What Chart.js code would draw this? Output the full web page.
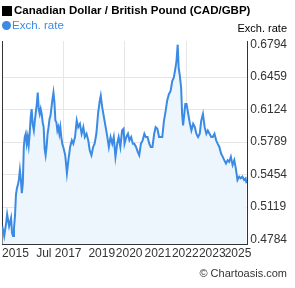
<!DOCTYPE html>
<html><head><meta charset="utf-8">
<script src="https://cdn.jsdelivr.net/npm/chart.js@4/dist/chart.umd.min.js"></script>
<style>html,body{margin:0;padding:0;background:#fff}#wrap{width:295px;height:288px;position:relative}</style>
</head><body><div id="wrap"><canvas id="c" width="295" height="288"></canvas></div>
<script>
const chartTitle = 'Canadian Dollar / British Pound (CAD/GBP)';
const seriesName = 'Exch. rate';
const axisTitle = 'Exch. rate';
const credit = '\u00A9 Chartoasis.com';
const years = [2015.60,2015.68,2015.76,2015.80,2015.88,2015.96,2016.00,2016.04,2016.08,2016.12,2016.16,2016.20,2016.24,2016.28,2016.32,2016.36,2016.40,2016.44,2016.48,2016.52,2016.56,2016.60,2016.64,2016.68,2016.72,2016.76,2016.80,2016.84,2016.89,2016.93,2016.97,2017.01,2017.05,2017.09,2017.13,2017.17,2017.21,2017.25,2017.29,2017.33,2017.37,2017.41,2017.45,2017.49,2017.53,2017.57,2017.61,2017.65,2017.69,2017.73,2017.77,2017.81,2017.85,2017.89,2017.93,2017.97,2018.01,2018.05,2018.09,2018.17,2018.24,2018.30,2018.37,2018.44,2018.50,2018.57,2018.64,2018.70,2018.77,2018.84,2018.91,2018.97,2019.04,2019.11,2019.17,2019.24,2019.31,2019.37,2019.44,2019.51,2019.58,2019.62,2019.68,2019.75,2019.82,2019.89,2019.95,2020.02,2020.09,2020.15,2020.22,2020.29,2020.35,2020.42,2020.49,2020.55,2020.59,2020.66,2020.73,2020.79,2020.86,2020.93,2020.99,2021.06,2021.13,2021.19,2021.26,2021.33,2021.40,2021.46,2021.53,2021.60,2021.66,2021.73,2021.80,2021.86,2021.93,2022.00,2022.07,2022.13,2022.20,2022.27,2022.33,2022.40,2022.47,2022.54,2022.60,2022.67,2022.71,2022.76,2022.80,2022.84,2022.90,2022.94,2022.98,2023.03,2023.07,2023.12,2023.19,2023.26,2023.32,2023.39,2023.46,2023.52,2023.59,2023.66,2023.72,2023.79,2023.86,2023.93,2023.99,2024.06,2024.13,2024.19,2024.26,2024.33,2024.39,2024.46,2024.53,2024.60,2024.66,2024.73,2024.80,2024.86,2024.93,2025.00,2025.07,2025.13,2025.20,2025.27,2025.33,2025.40,2025.47,2025.53,2025.57];
const rates = [0.4922,0.4820,0.4955,0.5044,0.4922,0.5006,0.4853,0.4820,0.4904,0.5024,0.5248,0.5312,0.5350,0.5401,0.5500,0.5401,0.5262,0.5364,0.5738,0.5840,0.5874,0.5772,0.5840,0.5755,0.5874,0.6044,0.6129,0.5976,0.5908,0.6010,0.6095,0.6180,0.6299,0.6129,0.6078,0.6129,0.6078,0.5993,0.5942,0.5721,0.5653,0.5738,0.5874,0.5942,0.6027,0.6061,0.6146,0.6231,0.6299,0.6197,0.6010,0.5993,0.5908,0.5942,0.5874,0.5942,0.5840,0.5772,0.5738,0.5653,0.5466,0.5602,0.5738,0.5806,0.5772,0.5840,0.6010,0.5942,0.5976,0.5874,0.5942,0.5840,0.5874,0.5806,0.5704,0.5653,0.5738,0.5772,0.5874,0.6078,0.6215,0.6266,0.6146,0.6044,0.5942,0.5840,0.5738,0.5840,0.5772,0.5840,0.5636,0.5772,0.5840,0.5738,0.5908,0.5925,0.5772,0.5840,0.5874,0.5806,0.5840,0.5772,0.5772,0.5738,0.5687,0.5653,0.5772,0.5806,0.5874,0.5840,0.5840,0.5772,0.5738,0.5738,0.5874,0.5942,0.5925,0.5840,0.5840,0.5840,0.6010,0.6112,0.6215,0.6282,0.6316,0.6419,0.6452,0.6554,0.6623,0.6792,0.6554,0.6486,0.6350,0.6078,0.5959,0.6078,0.6180,0.6180,0.6078,0.5976,0.5908,0.5976,0.5942,0.5874,0.5840,0.5874,0.6010,0.6078,0.5942,0.5874,0.5908,0.5874,0.5840,0.5840,0.5874,0.5806,0.5772,0.5738,0.5670,0.5636,0.5602,0.5568,0.5602,0.5585,0.5636,0.5551,0.5602,0.5517,0.5398,0.5432,0.5415,0.5432,0.5398,0.5415,0.5364];
const yTicks = [0.4784,0.5119,0.5454,0.5789,0.6124,0.6459,0.6794];
const yMin = 0.4738, yMax = 0.6830;
const xMin = 2015.6, xMax = 2025.6;
const xGridYears = [2015.6,2018.1,2020.6,2023.1,2025.6];
const xLabelYears = [2016.14,2017.91,2019.66,2020.78,2021.95,2023.07,2024.17,2025.22];
const xLabels = ['2015','Jul 2017','2019','2020','2021','2022','2023','2025'];

const FONT = '"Liberation Sans", Arial, sans-serif';
const lineColor = '#3b8ae4';

const header = {
  id: 'header',
  afterDraw(chart) {
    const ctx = chart.ctx;
    ctx.save();
    ctx.fillStyle = '#000';
    ctx.fillRect(2, 6, 10, 10);
    ctx.font = 'bold 11.5px ' + FONT;
    ctx.textBaseline = 'middle';
    ctx.textAlign = 'left';
    ctx.fillText(chartTitle, 14, 11);
    ctx.fillStyle = lineColor;
    ctx.beginPath(); ctx.arc(6.5, 25.5, 4.5, 0, Math.PI * 2); ctx.fill();
    ctx.font = '11.5px ' + FONT;
    ctx.fillText(chart.data.datasets[0].label, 12, 26);
    ctx.fillStyle = '#000';
    ctx.font = '11px ' + FONT;
    ctx.textAlign = 'right';
    ctx.fillText(axisTitle, 287, 29);
    ctx.fillStyle = '#333';
    ctx.fillText(credit, 287, 274);
    ctx.restore();
  }
};

new Chart(document.getElementById('c'), {
  type: 'line',
  data: {
    datasets: [{
      label: seriesName,
      data: years.map((y, i) => ({x: y, y: rates[i]})),
      borderColor: lineColor,
      borderWidth: 2,
      backgroundColor: '#edf5fd',
      fill: 'start',
      pointRadius: 0,
      tension: 0
    }]
  },
  options: {
    responsive: false,
    animation: false,
    devicePixelRatio: 1,
    layout: {padding: {top: 41, right: 5, bottom: 25.6, left: 1}},
    plugins: {legend: {display: false}, title: {display: false}, tooltip: {enabled: false}},
    scales: {
      x: {
        type: 'linear', position: 'bottom', min: xMin, max: xMax,
        afterBuildTicks: s => { s.ticks = xGridYears.map(v => ({value: v})); },
        ticks: {display: false},
        grid: {color: '#e6e6e6', drawTicks: false},
        border: {color: '#333', width: 1}
      },
      xl: {
        type: 'linear', position: 'bottom', min: xMin, max: xMax,
        afterBuildTicks: s => { s.ticks = xLabelYears.map(v => ({value: v})); },
        ticks: {autoSkip: false, maxRotation: 0, minRotation: 0, padding: 2, color: '#333',
                font: {family: FONT, size: 12}, callback: (v, i) => xLabels[i]},
        grid: {display: false, drawTicks: false},
        border: {display: false}
      },
      y: {
        position: 'right', min: yMin, max: yMax,
        afterBuildTicks: s => { s.ticks = yTicks.map(v => ({value: v})); },
        ticks: {padding: 3, color: '#333', font: {family: FONT, size: 12}, callback: v => v.toFixed(4)},
        grid: {drawTicks: false, color: c => (c.index === 0 || c.index === yTicks.length - 1) ? 'rgba(0,0,0,0)' : '#e6e6e6'},
        border: {color: '#333', width: 1}
      },
      yl: {
        position: 'left', min: yMin, max: yMax,
        ticks: {display: false},
        grid: {display: false, drawTicks: false},
        border: {color: '#333', width: 1}
      }
    }
  },
  plugins: [header]
});
</script></body></html>
